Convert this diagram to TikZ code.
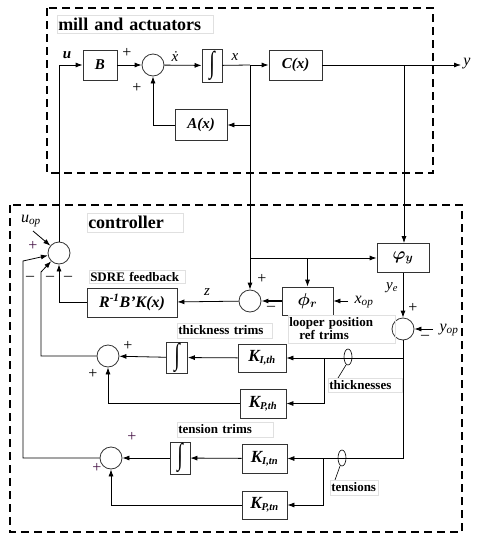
\documentclass[tikz,border=0pt]{standalone}
\usepackage{fontspec}
\setmainfont{Liberation Serif}
\usepackage{bm}
\usepackage{graphicx}
\usetikzlibrary{arrows.meta}

\newcommand{\fsz}[1]{\fontsize{#1}{#1}\selectfont}
\newcommand{\integ}{\scalebox{1}[1.5]{\fsz{20}∫}}
\definecolor{signpurple}{RGB}{70,20,70}

\tikzset{
  arr/.style={-{Latex[length=7pt,width=5pt]}},
  blk/.style={draw=black!80, inner sep=0pt, font=\fsz{15}\bfseries\itshape},
  sumc/.style={draw=black!80, circle, minimum size=22pt, inner sep=0pt},
  tag/.style={draw=black!12, line width=0.5pt, anchor=west, inner xsep=1pt, inner ysep=0pt, align=left, font=\fsz{13}\bfseries},
  sig/.style={font=\fsz{14}\itshape, inner sep=0pt},
  sgn/.style={font=\fsz{16}, inner sep=0pt},
  region/.style={dash pattern=on 8pt off 5pt, line width=1.3pt},
}

\begin{document}
\begin{tikzpicture}[x=1pt, y=-1pt, line width=0.8pt]
  \useasboundingbox (0,0) rectangle (479,544);

  % dashed regions
  \draw[region] (47,8) rectangle (433,173);
  \draw[region] (10,205) rectangle (462,532);
  \node[tag, font=\fsz{18}\bfseries, text width=154, minimum height=18] at (57,24) {mill and actuators};
  \node[tag, font=\fsz{18}\bfseries, text width=94, minimum height=19] at (87,222.5) {controller};

  % mill and actuators
  \node[blk, minimum width=34, minimum height=30] (B) at (100,65) {B};
  \node[sumc] (s1) at (153,65) {};
  \node[blk, minimum width=20, minimum height=33, font=\upshape] (int1) at (212,65.5) {\integ};
  \node[blk, minimum width=53, minimum height=30] (C) at (295.5,65) {C(x)};
  \node[blk, minimum width=52, minimum height=31] (A) at (201,125) {A(x)};
  \coordinate (uin) at (59,65);
  \coordinate (jx) at (250,65);
  \coordinate (jy) at (404,65);
  \coordinate (yend) at (461,65);

  \draw[arr] (uin) -- (B);
  \draw[arr] (B) -- (s1);
  \draw[arr] (s1) -- (int1);
  \draw (int1) -- (jx);
  \draw[arr] (jx) -- (C);
  \draw[arr] (C) -- (yend);
  \draw[arr] (jx |- A) -- (A);
  \draw[arr] (A) -| (s1);
  \node[sig, font=\fsz{15}\bfseries\itshape] at (67,55) {u};
  \node[sig, font=\fsz{15}\itshape] at (175,57) {\.x};
  \node[sig, font=\fsz{15}\itshape] at (235,57) {x};
  \node[sig, font=\fsz{16}\itshape, anchor=west] at (463,64) {y};
  \node[sgn] at (127,53) {+};
  \node[sgn] at (137,88) {+};

  % controller blocks
  \node[blk, minimum width=52, minimum height=29, font=\fsz{17}] (phy) at (403,258) {$\bm{\varphi}_{\bm{y}}$};
  \node[blk, minimum width=51, minimum height=28, font=\fsz{17}] (phr) at (307.5,301) {$\bm{\phi}_{\bm{r}}$};
  \node[sumc] (zs) at (250,301) {};
  \node[blk, minimum width=90, minimum height=29, font=\fsz{16}\bfseries\itshape] (R) at (132,302.5) {R\textsuperscript{-1}B'K(x)};
  \node[sumc] (ms) at (59,253) {};
  \node[sumc] (ys) at (403,329) {};
  \node[blk, minimum width=48, minimum height=28] (KIth) at (262,358) {{\fsz{17}K}\textsubscript{I,th}};
  \node[blk, minimum width=46, minimum height=29] (KPth) at (263,403.5) {{\fsz{17}K}\textsubscript{P,th}};
  \node[blk, minimum width=21, minimum height=31, font=\upshape] (ith) at (177,357.5) {\integ};
  \node[sumc] (ths) at (108,356) {};
  \node[blk, minimum width=45, minimum height=29] (KItn) at (264.5,458.5) {{\fsz{17}K}\textsubscript{I,tn}};
  \node[blk, minimum width=45, minimum height=28] (KPtn) at (264.5,505) {{\fsz{17}K}\textsubscript{P,tn}};
  \node[blk, minimum width=20, minimum height=32, font=\upshape] (itn) at (180,458) {\integ};
  \node[sumc] (tns) at (111,458) {};

  \coordinate (xop) at (348,301);
  \coordinate (yop) at (433,329);
  \coordinate (thc) at (41,272);
  \coordinate (tnc) at (23,261);
  \coordinate (bth) at (324,358);
  \coordinate (btn) at (323,458);

  % signals into the controller
  \draw[arr] (jx) -- (zs);
  \draw[arr] (jx |- phy) -- (phy);
  \draw[arr] (phr |- phy) -- (phr);
  \draw[arr] (jy) -- (jy |- phy.north);
  \draw[arr, line width=1.2pt] (phr) -- (zs);
  \draw[arr] (zs) -- (R);
  \draw[arr] (R) -| (ms);
  \draw (ms) -- (uin);
  \draw[arr] (xop) -- (phr);
  \draw[arr] (phy) -- (ys);
  \draw[arr] (yop) -- (ys);

  % trims
  \draw (ys) -- (ys |- KItn);
  \draw[arr] (ys |- KIth) -- (KIth);
  \draw[arr] (ys |- KItn) -- (KItn);
  \draw[arr] (bth) |- (KPth);
  \draw[arr] (btn) |- (KPtn);
  \draw[arr] (KIth) -- (ith);
  \draw[arr] (ith) -- (ths);
  \draw[arr] (KPth) -| (ths);
  \draw[arr] (KItn) -- (itn);
  \draw[arr] (itn) -- (tns);
  \draw[arr] (KPtn) -| (tns);
  \draw[arr] (ths) -- (ths -| thc) -- (thc) -- (ms);
  \draw[arr] (tns) -- (tns -| tnc) -- (tnc) -- (ms);
  \node[sig, font=\fsz{16}\itshape] (uop) at (31,221) {u\textsubscript{op}};
  \draw[arr] (33,231) -- (ms);

  % bundles
  \draw[line width=0.6pt] (348,357) ellipse [x radius=4, y radius=8];
  \draw[line width=0.6pt] (346,365) -- (338,378);
  \draw[line width=0.6pt] (342,458) ellipse [x radius=4, y radius=8];
  \draw[line width=0.6pt] (340,466) -- (335,480);

  % labels
  \node[sig, font=\fsz{15}\itshape] at (207,292) {z};
  \node[sig, font=\fsz{15}\itshape] at (392,288) {y\textsubscript{e}};
  \node[sig, font=\fsz{16}\itshape] at (364,302) {x\textsubscript{op}};
  \node[sig, font=\fsz{16}\itshape] at (449,330) {y\textsubscript{op}};
  \node[tag, text width=94, minimum height=13] at (89,276.5) {SDRE feedback};
  \node[tag, text width=93, minimum height=15] at (177,330.5) {thickness trims};
  \node[tag, text width=105, minimum height=28] at (288,329) {looper position\\\hspace*{10pt}ref trims};
  \node[tag, text width=72, minimum height=14] at (328,385) {thicknesses};
  \node[tag, text width=94, minimum height=15] at (177,429.5) {tension trims};
  \node[tag, text width=46, minimum height=15] at (330,487.5) {tensions};

  % signs
  \node[sgn, text=signpurple] at (33,246) {+};
  \node[sgn] at (30,278) {–};
  \node[sgn] at (50,278) {–};
  \node[sgn] at (68,278) {–};
  \node[sgn] at (262,279) {+};
  \node[sgn] at (271,308) {–};
  \node[sgn] at (413,308) {+};
  \node[sgn] at (425,337) {–};
  \node[sgn] at (128,346) {+};
  \node[sgn] at (93,374) {+};
  \node[sgn, text=signpurple] at (132,437) {+};
  \node[sgn, text=signpurple] at (97,468) {+};
\end{tikzpicture}
\end{document}
